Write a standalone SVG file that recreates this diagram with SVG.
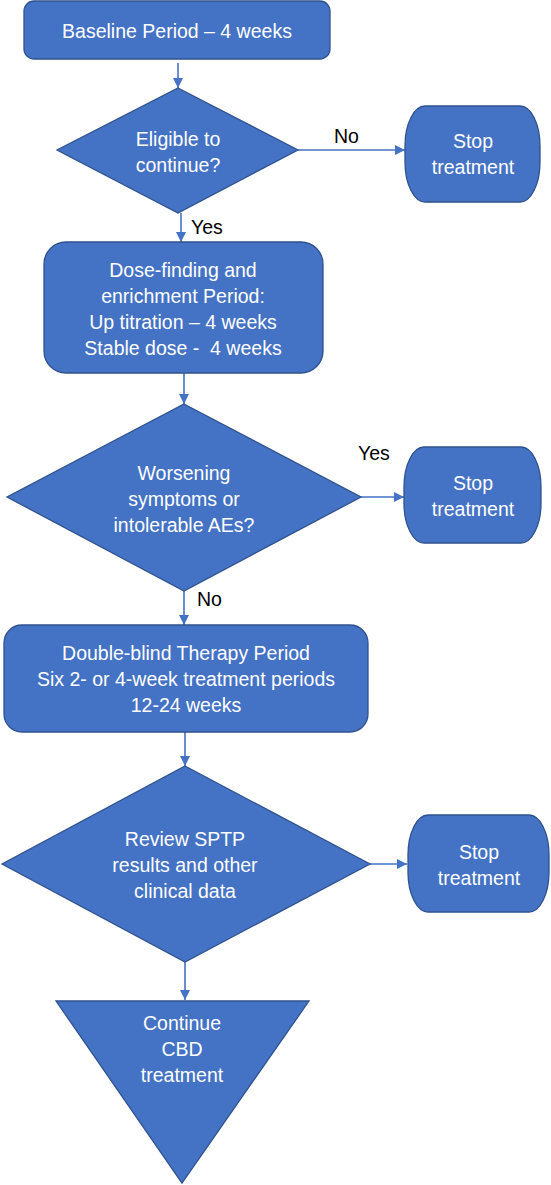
<svg xmlns="http://www.w3.org/2000/svg" width="551" height="1185" viewBox="0 0 551 1185">
<style>
.shape{fill:#4472C4;stroke:#2F528F;stroke-width:1.3}
.t{font-family:"Liberation Sans",Arial,sans-serif;font-size:19.5px;fill:#FFFFFF;text-anchor:middle}
.lbl{font-family:"Liberation Sans",Arial,sans-serif;font-size:19.5px;fill:#000000}
.conn{stroke:#4472C4;stroke-width:1.6;fill:none}
</style>
<defs>
<marker id="arr" viewBox="0 0 10 10" refX="10" refY="5" markerWidth="6.5" markerHeight="6.5" markerUnits="strokeWidth" orient="auto">
<path d="M0,0 L10,5 L0,10 Z" fill="#4472C4"/>
</marker>
</defs>
<rect width="551" height="1185" fill="#FFFFFF"/>
<g id="connectors">
<line class="conn" x1="178" y1="63" x2="178" y2="88" marker-end="url(#arr)"/>
<line class="conn" x1="298" y1="150" x2="405" y2="150" marker-end="url(#arr)"/>
<line class="conn" x1="181" y1="213" x2="181" y2="242" marker-end="url(#arr)"/>
<line class="conn" x1="184" y1="373" x2="184" y2="404" marker-end="url(#arr)"/>
<line class="conn" x1="361" y1="497" x2="404" y2="497" marker-end="url(#arr)"/>
<line class="conn" x1="184" y1="591" x2="184" y2="625" marker-end="url(#arr)"/>
<line class="conn" x1="185" y1="732" x2="185" y2="766" marker-end="url(#arr)"/>
<line class="conn" x1="370" y1="864" x2="407" y2="864" marker-end="url(#arr)"/>
<line class="conn" x1="185" y1="962" x2="185" y2="1000" marker-end="url(#arr)"/>
<text class="lbl" x="334" y="143">No</text>
<text class="lbl" x="191" y="234">Yes</text>
<text class="lbl" x="358" y="460">Yes</text>
<text class="lbl" x="197" y="606">No</text>
</g>
<g id="baseline">
<rect class="shape" x="24" y="1" width="306" height="58" rx="10" ry="10"/>
<text class="t" x="177" y="38">Baseline Period – 4 weeks</text>
</g>
<g id="eligible">
<polygon class="shape" points="178,88 298,150 178,213 57,150"/>
<text class="t" x="178" y="146">Eligible to</text>
<text class="t" x="178" y="172">continue?</text>
</g>
<g id="stop1">
<rect class="shape" x="405" y="106" width="135" height="96" rx="20" ry="40"/>
<text class="t" x="473" y="148">Stop</text>
<text class="t" x="473" y="174">treatment</text>
</g>
<g id="dosefinding">
<rect class="shape" x="44" y="242" width="279" height="131" rx="22" ry="22"/>
<text class="t" x="183" y="277">Dose-finding and</text>
<text class="t" x="183" y="303">enrichment Period:</text>
<text class="t" x="183" y="329">Up titration – 4 weeks</text>
<text class="t" x="183" y="355" xml:space="preserve">Stable dose -  4 weeks</text>
</g>
<g id="worsening">
<polygon class="shape" points="184,404 361,497 184,591 7,497"/>
<text class="t" x="184" y="480">Worsening</text>
<text class="t" x="184" y="506">symptoms or</text>
<text class="t" x="184" y="532">intolerable AEs?</text>
</g>
<g id="stop2">
<rect class="shape" x="404" y="447" width="137" height="96" rx="20" ry="40"/>
<text class="t" x="473" y="490">Stop</text>
<text class="t" x="473" y="516">treatment</text>
</g>
<g id="doubleblind">
<rect class="shape" x="4" y="625" width="364" height="107" rx="18" ry="18"/>
<text class="t" x="186" y="660">Double-blind Therapy Period</text>
<text class="t" x="186" y="686">Six 2- or 4-week treatment periods</text>
<text class="t" x="186" y="712">12-24 weeks</text>
</g>
<g id="review">
<polygon class="shape" points="185,766 370,864 185,962 2,864"/>
<text class="t" x="185" y="846">Review SPTP</text>
<text class="t" x="185" y="872">results and other</text>
<text class="t" x="185" y="898">clinical data</text>
</g>
<g id="stop3">
<rect class="shape" x="408" y="815" width="141" height="97" rx="20" ry="40"/>
<text class="t" x="479" y="859">Stop</text>
<text class="t" x="479" y="885">treatment</text>
</g>
<g id="continue">
<polygon class="shape" points="56,1001 309,1001 182,1183"/>
<text class="t" x="182" y="1030">Continue</text>
<text class="t" x="182" y="1056">CBD</text>
<text class="t" x="182" y="1082">treatment</text>
</g>
</svg>
